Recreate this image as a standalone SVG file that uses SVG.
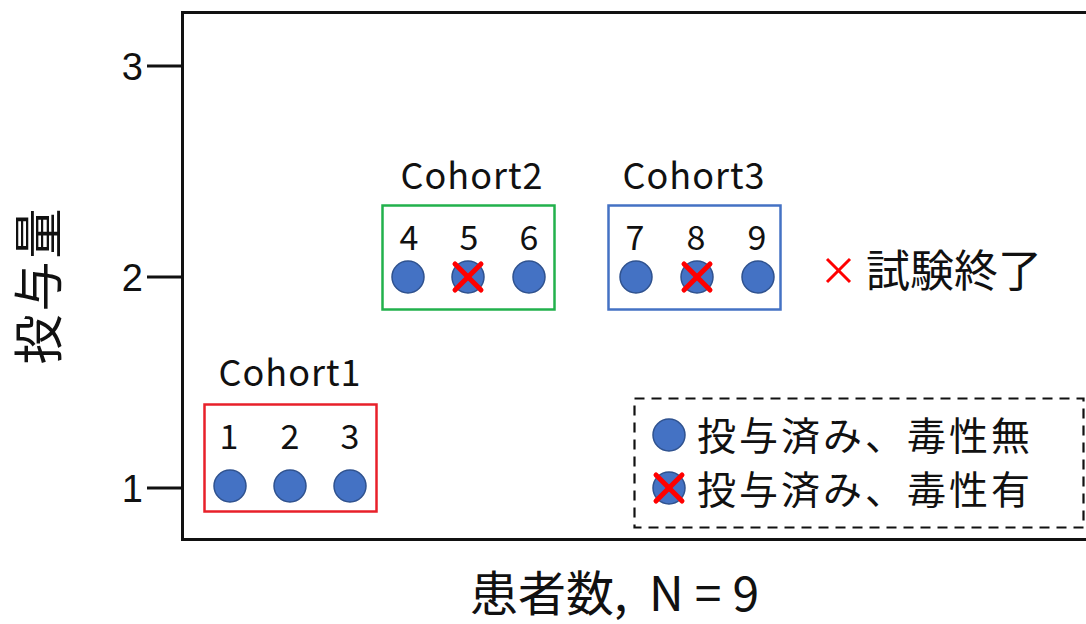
<svg xmlns="http://www.w3.org/2000/svg" width="1086" height="624" viewBox="0 0 1086 624">
  <style>
    .jp { font-family: "Noto Sans CJK JP", "Liberation Sans", sans-serif; fill: #111; }
    .ax { font-family: "Liberation Sans", "DejaVu Sans", sans-serif; fill: #111; }
    .frame { fill: none; stroke: #111; stroke-width: 3; }
    .tick { stroke: #111; stroke-width: 3; }
    .dot { fill: #4472c4; stroke: #2f528f; stroke-width: 1.5; }
    .cross { stroke: #ff0000; stroke-width: 5; stroke-linecap: round; }
    .num { font-size: 34px; text-anchor: middle; }
    .cohort { font-size: 36px; text-anchor: middle; letter-spacing: 1px; }
    .leg { font-size: 39px; letter-spacing: 3px; }
  </style>
  <defs>
    <circle id="pt" r="16" class="dot"/>
    <g id="x">
      <line x1="-13" y1="-13" x2="13" y2="13" class="cross"/>
      <line x1="13" y1="-13" x2="-13" y2="13" class="cross"/>
    </g>
  </defs>
  <rect width="1086" height="624" fill="#fff"/>

  <!-- plot frame and dose axis -->
  <g id="axes">
    <path class="frame" d="M1090 12.5 H182.5 V539.5 H1090"/>
    <line class="tick" x1="147" y1="66" x2="182" y2="66"/>
    <line class="tick" x1="147" y1="277" x2="182" y2="277"/>
    <line class="tick" x1="147" y1="488" x2="182" y2="488"/>
    <text class="ax" x="143" y="80" font-size="38" text-anchor="end">3</text>
    <text class="ax" x="143" y="291" font-size="38" text-anchor="end">2</text>
    <text class="ax" x="143" y="502" font-size="38" text-anchor="end">1</text>
    <text class="jp" font-size="50" text-anchor="middle" letter-spacing="3" transform="translate(57 285) rotate(-90)">投与量</text>
    <text class="jp" x="470" y="611" font-size="48">患者数,<tspan letter-spacing="11"> N=9</tspan></text>
  </g>

  <!-- cohort 1: dose level 1 -->
  <g id="cohort1">
    <text class="jp cohort" x="290" y="386">Cohort1</text>
    <rect x="204.5" y="404.5" width="172" height="107" fill="none" stroke="#e8202a" stroke-width="2.5"/>
    <text class="jp num" x="229" y="449">1</text>
    <text class="jp num" x="290" y="449">2</text>
    <text class="jp num" x="350" y="449">3</text>
    <use href="#pt" x="230" y="486"/>
    <use href="#pt" x="290" y="486"/>
    <use href="#pt" x="350" y="486"/>
  </g>

  <!-- cohort 2: dose level 2 -->
  <g id="cohort2">
    <text class="jp cohort" x="472" y="189">Cohort2</text>
    <rect x="382.5" y="205.5" width="172" height="104" fill="none" stroke="#22b14c" stroke-width="2.5"/>
    <text class="jp num" x="409" y="250">4</text>
    <text class="jp num" x="469" y="250">5</text>
    <text class="jp num" x="529" y="250">6</text>
    <use href="#pt" x="408" y="277"/>
    <use href="#pt" x="468" y="277"/>
    <use href="#x" x="468" y="277"/>
    <use href="#pt" x="529" y="277"/>
  </g>

  <!-- cohort 3: dose level 2 -->
  <g id="cohort3">
    <text class="jp cohort" x="694" y="189">Cohort3</text>
    <rect x="608.5" y="205.5" width="172" height="104" fill="none" stroke="#4472c4" stroke-width="2.5"/>
    <text class="jp num" x="635" y="250">7</text>
    <text class="jp num" x="696" y="250">8</text>
    <text class="jp num" x="757" y="250">9</text>
    <use href="#pt" x="636" y="277"/>
    <use href="#pt" x="697" y="277"/>
    <use href="#x" x="697" y="277"/>
    <use href="#pt" x="758" y="277"/>
  </g>

  <!-- end-of-trial marker -->
  <g id="end-note">
    <line x1="827" y1="259" x2="850" y2="282" stroke="#ff0000" stroke-width="3"/>
    <line x1="850" y1="259" x2="827" y2="282" stroke="#ff0000" stroke-width="3"/>
    <text class="jp" x="866" y="287" font-size="44">試験終了</text>
  </g>

  <!-- legend -->
  <g id="legend">
    <rect x="634.5" y="398.5" width="449" height="129" fill="none" stroke="#111" stroke-width="2.2" stroke-dasharray="10 7"/>
    <use href="#pt" x="669" y="435"/>
    <text class="jp leg" x="697" y="450">投与済み、毒性無</text>
    <use href="#pt" x="669" y="488"/>
    <use href="#x" x="669" y="488"/>
    <text class="jp leg" x="697" y="504">投与済み、毒性有</text>
  </g>
</svg>
